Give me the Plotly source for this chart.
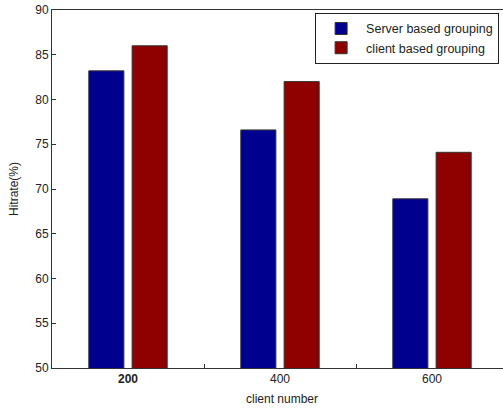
import plotly.graph_objects as go

client_numbers = [200, 400, 600]
tick_labels = ["<b>200</b>", "400", "600"]
server_based = [83.2, 76.6, 68.9]
client_based = [86.0, 82.0, 74.1]

fig = go.Figure()
fig.add_trace(go.Bar(x=client_numbers, y=server_based, name="Server based grouping",
                     marker=dict(color="#00008F", line=dict(color="#333333", width=1))))
fig.add_trace(go.Bar(x=client_numbers, y=client_based, name="client based grouping",
                     marker=dict(color="#8F0000", line=dict(color="#333333", width=1))))

fig.update_layout(
    width=512, height=408,
    margin=dict(l=52, r=0, t=10, b=40, autoexpand=False),
    plot_bgcolor="white", paper_bgcolor="white",
    barmode="group", bargap=0.43, bargroupgap=0.19,
    font=dict(family="Liberation Sans, Arial", size=12, color="#222222"),
    showlegend=True,
    legend=dict(x=0.572, y=0.992, xanchor="left", yanchor="top",
                bordercolor="#222222", borderwidth=1, bgcolor="white",
                font=dict(size=12.5), tracegroupgap=0, itemwidth=40),
    xaxis=dict(range=[100, 100 + 460 / 0.76], tickvals=client_numbers, ticktext=tick_labels,
               ticks="", showgrid=False, zeroline=False, automargin=False,
               showline=True, linecolor="#333333", linewidth=1, mirror=True,
               minor=dict(tickvals=[300, 500], ticks="inside", ticklen=4,
                          tickcolor="#333333", showgrid=False),
               title=dict(text="client number", font=dict(size=12), standoff=9),
               tickfont=dict(size=12)),
    yaxis=dict(range=[50, 90], dtick=5, tick0=50, ticks="inside", ticklen=4,
               tickcolor="#333333", showgrid=False, zeroline=False, automargin=False,
               showline=True, linecolor="#333333", linewidth=1,
               title=dict(text="Hitrate(%)", font=dict(size=12), standoff=14),
               tickfont=dict(size=12)),
)

fig.write_html("out.html", config={"displayModeBar": False},
               post_script="document.body.style.margin='0';document.body.style.overflow='hidden';")
